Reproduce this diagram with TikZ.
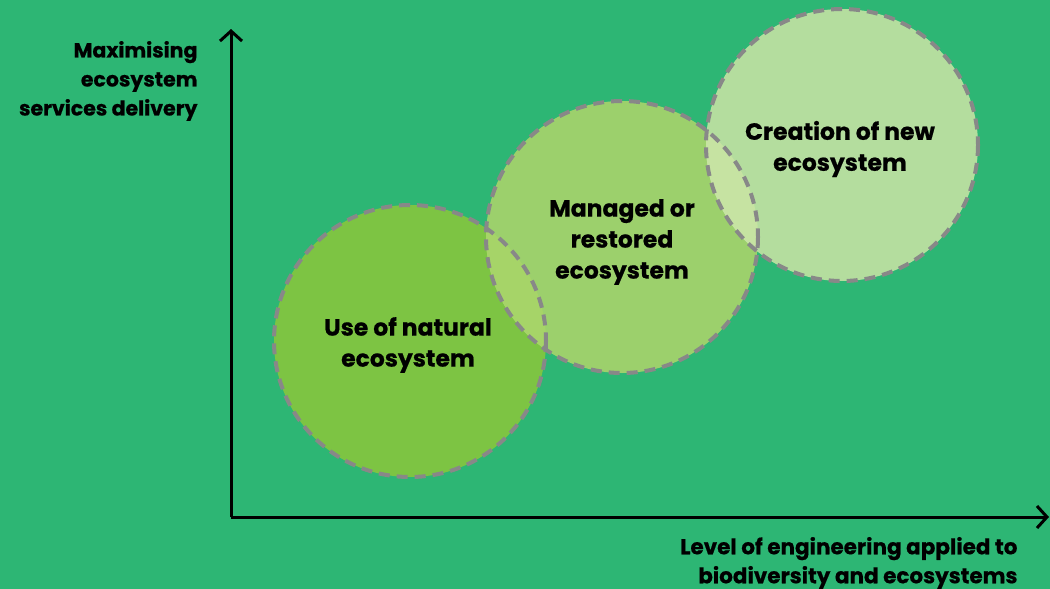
\documentclass[tikz,border=0pt]{standalone}
\usepackage{fontspec}
\setmainfont{Poppins}[BoldFeatures={FakeBold=0.6}]
\usetikzlibrary{arrows.meta}
\definecolor{bggreen}{HTML}{2DB674}
\definecolor{natgreen}{HTML}{7DC443}
\definecolor{mangreen}{HTML}{9CD06C}
\definecolor{newgreen}{HTML}{B4DD9E}
\definecolor{lensone}{HTML}{A6D468}
\definecolor{lenstwo}{HTML}{C6E3A2}
\definecolor{dashgrey}{HTML}{888888}
\begin{document}
\begin{tikzpicture}[x=1pt,y=-1pt,>={Straight Barb[length=10pt,width=22pt,line width=3pt]},
  eco/.style={circle,minimum size=272pt,inner sep=0pt},
  ring/.style={draw=dashgrey,line width=4pt,dash pattern=on 11pt off 7pt},
  label/.style={font=\bfseries\fontsize{23.5}{31}\selectfont,align=center,text=black},
  axislabel/.style={font=\bfseries\fontsize{20.5}{29}\selectfont,align=right,text=black}]
  \fill[bggreen] (0,0) rectangle (1050,589);
  \useasboundingbox (0,0) rectangle (1050,589);
  % circles
  \node[eco,fill=natgreen] (N) at (410,341) {};
  \node[eco,fill=mangreen] (M) at (622,237) {};
  \node[eco,fill=newgreen] (C) at (842,145) {};
  % overlaps
  \begin{scope}
    \clip (410,341) circle (136);
    \fill[lensone] (622,237) circle (136);
  \end{scope}
  \begin{scope}
    \clip (622,237) circle (136);
    \fill[lenstwo] (842,145) circle (136);
  \end{scope}
  \draw[ring] (410,341) circle (136);
  \draw[ring] (622,237) circle (136);
  \draw[ring] (842,145) circle (136);
  \node[label] at (408,345) {Use of natural\\ecosystem};
  \node[label] at (622,242) {Managed or\\restored\\ecosystem};
  \node[label] at (840,149) {Creation of new\\ecosystem};
  % axes
  \coordinate (O) at (231,517);
  \coordinate (Y) at (231,29);
  \coordinate (X) at (1049,517);
  \draw[->,line width=3pt] (O) -- (Y);
  \draw[->,line width=3pt] (O) -- (X);
  \node[axislabel,anchor=east] (yl) at (201,81) {Maximising\\ecosystem\\services delivery};
  \node[axislabel,anchor=east,font=\bfseries\fontsize{21.5}{29}\selectfont] (xl) at (1021,563) {Level of engineering applied to\\biodiversity and ecosystems};
\end{tikzpicture}
\end{document}
